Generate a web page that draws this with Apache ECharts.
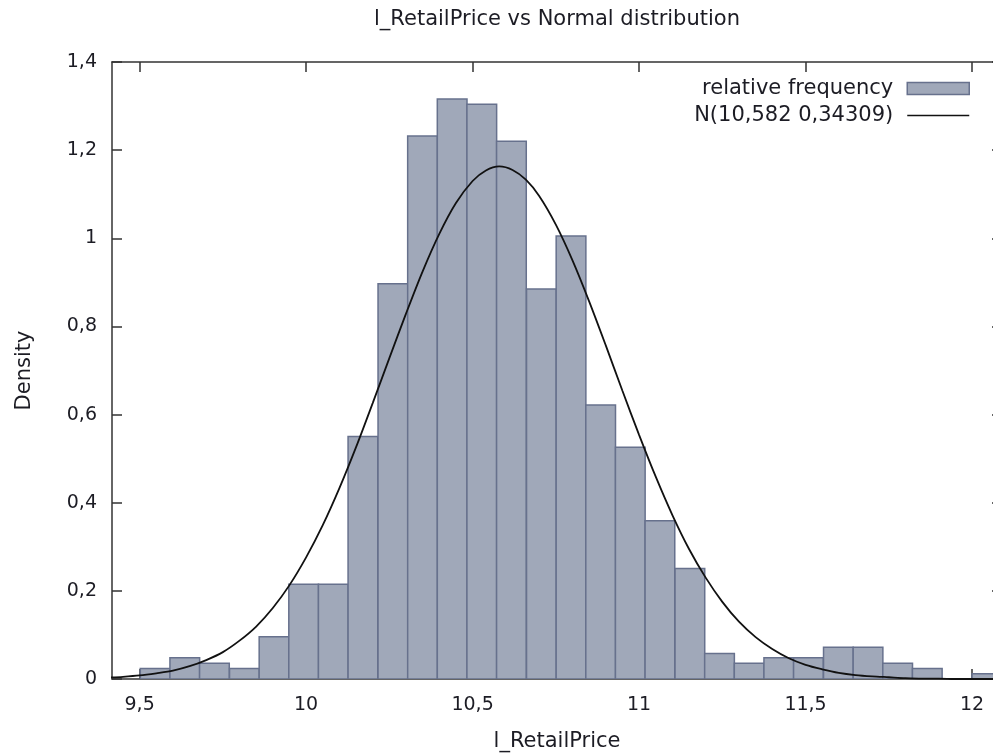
<!DOCTYPE html>
<html>
<head>
<meta charset="utf-8">
<title>l_RetailPrice vs Normal distribution</title>
<script src="https://cdn.jsdelivr.net/npm/echarts@6/dist/echarts.min.js"></script>
<style>
  html, body { margin: 0; padding: 0; background: #fff; overflow: hidden; }
  #chart { width: 993px; height: 755px; }
</style>
</head>
<body>
<div id="chart"></div>
<script>
// histogram bins (left edges, common width) and density heights
const binLeft = [
  9.502, 9.591, 9.680, 9.770, 9.859, 9.948, 10.037, 10.126, 10.216, 10.305,
  10.394, 10.483, 10.572, 10.662, 10.751, 10.840, 10.929, 11.018, 11.108, 11.197,
  11.286, 11.375, 11.464, 11.554, 11.643, 11.732, 11.821, 11.910, 12.000
]
const binWidth = 0.0892
const density = [
  0.024, 0.048, 0.036, 0.024, 0.096, 0.215, 0.215, 0.550, 0.897, 1.232,
  1.316, 1.304, 1.220, 0.885, 1.005, 0.622, 0.526, 0.359, 0.251, 0.058,
  0.036, 0.048, 0.048, 0.072, 0.072, 0.036, 0.024, 0, 0.012
]

// normal curve N(10,582 0,34309)
const curveX = [
  9.40, 9.45, 9.50, 9.55, 9.60, 9.65, 9.70, 9.75, 9.80, 9.85,
  9.90, 9.95, 10.00, 10.05, 10.10, 10.15, 10.20, 10.25, 10.30, 10.35,
  10.40, 10.45, 10.50, 10.54, 10.58, 10.62, 10.66, 10.70, 10.75, 10.80, 10.85,
  10.90, 10.95, 11.00, 11.05, 11.10, 11.15, 11.20, 11.25, 11.30, 11.35,
  11.40, 11.45, 11.50, 11.55, 11.60, 11.65, 11.70, 11.75, 11.80, 11.85,
  11.90, 11.95, 12.00, 12.05, 12.10
]
const curveY = [
  0.003, 0.005, 0.008, 0.013, 0.019, 0.029, 0.043, 0.061, 0.087, 0.119,
  0.161, 0.213, 0.276, 0.349, 0.433, 0.526, 0.626, 0.728, 0.829, 0.925,
  1.010, 1.080, 1.130, 1.154, 1.163, 1.155, 1.133, 1.096, 1.031, 0.950, 0.857,
  0.757, 0.654, 0.554, 0.459, 0.372, 0.295, 0.230, 0.175, 0.130, 0.095,
  0.068, 0.047, 0.032, 0.022, 0.014, 0.009, 0.006, 0.004, 0.002, 0.001,
  0.001, 0, 0, 0, 0
]

const xTicks = [9.5, 10, 10.5, 11, 11.5, 12]

const FONT = 'DejaVu Sans'
const TXT = '#1c1c24'
const FRAME = '#333'
const BAR_FILL = '#a0a8b9'
const BAR_EDGE = '#67718d'

const fmtComma = v => String(Math.round(v * 10) / 10).replace('.', ',')

const histData = binLeft
  .map((lo, i) => [lo, lo + binWidth, density[i]])
  .filter(d => d[2] > 0)
const curveData = curveX.map((x, i) => [x, curveY[i]])

const chart = echarts.init(document.getElementById('chart'))

const axisBase = {
  min: 9.417,
  max: 12.09,
  axisLine: { show: true, onZero: false, lineStyle: { color: FRAME, width: 1.5 } },
  axisTick: { show: true, inside: true, length: 10, customValues: xTicks, lineStyle: { color: FRAME, width: 1.5 } },
  splitLine: { show: false }
}

const yBase = {
  type: 'value',
  min: 0,
  max: 1.4,
  interval: 0.2,
  axisLine: { show: true, onZero: false, lineStyle: { color: FRAME, width: 1.5 } },
  axisTick: { show: true, inside: true, length: 10, lineStyle: { color: FRAME, width: 1.5 } },
  splitLine: { show: false }
}

chart.setOption({
  animation: false,
  textStyle: { fontFamily: FONT, color: TXT },
  title: {
    text: 'l_RetailPrice vs Normal distribution',
    left: 557,
    top: 9,
    padding: 0,
    textAlign: 'center',
    textStyle: { fontFamily: FONT, fontSize: 21, fontWeight: 'normal', color: TXT }
  },
  legend: {
    orient: 'vertical',
    align: 'right',
    right: 18,
    top: 73,
    itemWidth: 62,
    itemHeight: 12,
    itemGap: 6,
    selectedMode: false,
    textStyle: { fontFamily: FONT, fontSize: 21, color: TXT, padding: [0, 9, 0, 0] },
    data: [
      { name: 'relative frequency', icon: 'rect', itemStyle: { color: BAR_FILL, borderColor: BAR_EDGE, borderWidth: 1.5 } },
      { name: 'N(10,582 0,34309)', icon: 'path://M0,0H62V1.6H0Z', itemStyle: { color: '#111' } }
    ]
  },
  // plot frame runs past the right edge of the canvas, as in the source image
  grid: { left: 112, width: 890, top: 62, height: 617, outerBoundsMode: 'none' },
  xAxis: [
    {
      ...axisBase,
      type: 'value',
      position: 'bottom',
      name: 'l_RetailPrice',
      nameLocation: 'middle',
      nameGap: 52,
      nameTextStyle: { fontFamily: FONT, fontSize: 21, color: TXT },
      axisLabel: {
        show: true,
        customValues: xTicks,
        margin: 17,
        fontFamily: FONT,
        fontSize: 19,
        color: TXT,
        formatter: fmtComma
      }
    },
    {
      ...axisBase,
      type: 'value',
      position: 'top',
      axisLabel: { show: false }
    }
  ],
  yAxis: [
    {
      ...yBase,
      position: 'left',
      name: 'Density',
      nameLocation: 'middle',
      nameGap: 77,
      nameRotate: 90,
      nameTextStyle: { fontFamily: FONT, fontSize: 21, color: TXT },
      axisLabel: { margin: 15, fontFamily: FONT, fontSize: 19, color: TXT, formatter: fmtComma }
    },
    {
      ...yBase,
      position: 'right',
      axisLabel: { show: false }
    }
  ],
  series: [
    {
      name: 'relative frequency',
      type: 'custom',
      xAxisIndex: 0,
      yAxisIndex: 0,
      clip: true,
      itemStyle: { color: BAR_FILL, borderColor: BAR_EDGE },
      encode: { x: [0, 1], y: 2 },
      data: histData,
      renderItem: (params, api) => {
        const top = api.coord([api.value(0), api.value(2)])
        const bot = api.coord([api.value(1), 0])
        return {
          type: 'rect',
          shape: { x: top[0], y: top[1], width: bot[0] - top[0], height: bot[1] - top[1] },
          style: { fill: BAR_FILL, stroke: BAR_EDGE, lineWidth: 1.5 }
        }
      }
    },
    {
      name: 'N(10,582 0,34309)',
      type: 'line',
      xAxisIndex: 0,
      yAxisIndex: 0,
      data: curveData,
      smooth: 0.3,
      symbol: 'none',
      clip: true,
      z: 3,
      lineStyle: { color: '#111', width: 1.8 },
      itemStyle: { color: '#111' }
    }
  ]
})

window.addEventListener('resize', () => chart.resize())
</script>
</body>
</html>
